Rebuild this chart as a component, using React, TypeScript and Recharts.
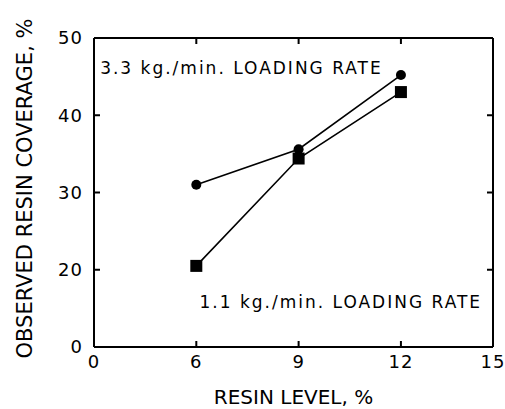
import React from 'react';
import { LineChart, Line, XAxis, YAxis, ReferenceDot } from 'recharts';

// Resin level (%) at which coverage was observed
const resinLevels = [6, 9, 12];
// Observed resin coverage (%) at 3.3 kg/min loading rate
const coverageFastLoading = [31.0, 35.6, 45.2];
// Observed resin coverage (%) at 1.1 kg/min loading rate
const coverageSlowLoading = [20.5, 34.4, 43.0];

// Broken axes: the lower-left corner is labelled 0
const xTicks = [3, 6, 9, 12, 14.7];
const xTickLabels = ['0', '6', '9', '12', '15'];
const yTicks = [10, 20, 30, 40, 50];
const yTickLabels = ['0', '20', '30', '40', '50'];

const annotationTexts = ['3.3 kg./min. LOADING RATE', '1.1 kg./min. LOADING RATE'];
const annotationX = [3.18, 14.38];
const annotationY = [46.1, 15.8];

const xTitle = 'RESIN LEVEL, %';
const yTitle = 'OBSERVED RESIN COVERAGE, %';

const FONT = "'DejaVu Sans', sans-serif";

const data = resinLevels.map((x, i) => ({
  x,
  fast: coverageFastLoading[i],
  slow: coverageSlowLoading[i],
}));

const SquareDot = (props: any) => {
  const { cx, cy, index } = props;
  if (cx == null || cy == null) return null;
  return <rect key={`sq-${index}`} x={cx - 6} y={cy - 6} width={12} height={12} fill="#000" />;
};

const CircleDot = (props: any) => {
  const { cx, cy, index } = props;
  if (cx == null || cy == null) return null;
  return <circle key={`ci-${index}`} cx={cx} cy={cy} r={5} fill="#000" />;
};

const fmtX = (v: number) => {
  const i = xTicks.indexOf(v);
  return i >= 0 ? xTickLabels[i] : String(v);
};
const fmtY = (v: number) => {
  const i = yTicks.indexOf(v);
  return i >= 0 ? yTickLabels[i] : String(v);
};

const XTitle = (props: any) => {
  const vb = props.viewBox || {};
  return (
    <text
      x={vb.x + vb.width / 2}
      y={vb.y + vb.height - 5}
      textAnchor="middle"
      fontFamily={FONT}
      fontSize={20}
      fill="#000"
    >
      {xTitle}
    </text>
  );
};

const YTitle = (props: any) => {
  const vb = props.viewBox || {};
  const cx = 25;
  const cy = vb.y + vb.height / 2 - 4;
  return (
    <text
      x={cx}
      y={cy}
      transform={`rotate(-90, ${cx}, ${cy})`}
      textAnchor="middle"
      dominantBaseline="central"
      fontFamily={FONT}
      fontSize={21}
      fill="#000"
    >
      {yTitle}
    </text>
  );
};

const tickStyle = { fontFamily: FONT, fontSize: 18, fill: '#000', letterSpacing: 1 };
const lineStyle = { stroke: '#000', strokeWidth: 2 };

export default function App() {
  return (
    <div style={{ position: 'absolute', left: 0, top: 0, background: '#fff' }}>
      <LineChart
        width={505}
        height={409}
        data={data}
        margin={{ top: 37, right: 11, bottom: 0, left: 0 }}
        style={{ fontFamily: FONT }}
      >
        <XAxis
          dataKey="x"
          type="number"
          domain={[3, 14.7]}
          ticks={xTicks}
          tickFormatter={fmtX}
          height={62}
          tickSize={-6}
          tickMargin={14}
          tick={tickStyle}
          tickLine={lineStyle}
          axisLine={lineStyle}
          label={<XTitle />}
        />
        <XAxis
          xAxisId="top"
          dataKey="x"
          orientation="top"
          type="number"
          domain={[3, 14.7]}
          ticks={xTicks}
          tickFormatter={() => ''}
          height={1}
          tickSize={-6}
          tickMargin={0}
          tick={tickStyle}
          tickLine={lineStyle}
          axisLine={lineStyle}
        />
        <YAxis
          type="number"
          domain={[10, 50]}
          ticks={yTicks}
          tickFormatter={fmtY}
          width={94}
          tickSize={-6}
          tickMargin={17}
          tick={tickStyle}
          tickLine={lineStyle}
          axisLine={lineStyle}
          label={<YTitle />}
        />
        <YAxis
          yAxisId="right"
          orientation="right"
          type="number"
          domain={[10, 50]}
          ticks={yTicks}
          tickFormatter={() => ''}
          width={1}
          tickSize={-6}
          tickMargin={0}
          tick={tickStyle}
          tickLine={lineStyle}
          axisLine={lineStyle}
        />
        <Line
          dataKey="fast"
          stroke="#000"
          strokeWidth={1.6}
          dot={<CircleDot />}
          activeDot={false}
          isAnimationActive={false}
        />
        <Line
          dataKey="slow"
          xAxisId="top"
          yAxisId="right"
          stroke="#000"
          strokeWidth={1.6}
          dot={<SquareDot />}
          activeDot={false}
          isAnimationActive={false}
        />
        <ReferenceDot
          x={annotationX[0]}
          y={annotationY[0]}
          r={0}
          fill="none"
          stroke="none"
          label={{
            value: annotationTexts[0],
            position: 'right',
            offset: 0,
            fill: '#000',
            fontSize: 17,
            fontFamily: FONT,
            style: { letterSpacing: 2 },
          }}
        />
        <ReferenceDot
          x={annotationX[1]}
          y={annotationY[1]}
          r={0}
          fill="none"
          stroke="none"
          label={{
            value: annotationTexts[1],
            position: 'left',
            offset: 0,
            fill: '#000',
            fontSize: 17,
            fontFamily: FONT,
            style: { letterSpacing: 2 },
          }}
        />
      </LineChart>
    </div>
  );
}
